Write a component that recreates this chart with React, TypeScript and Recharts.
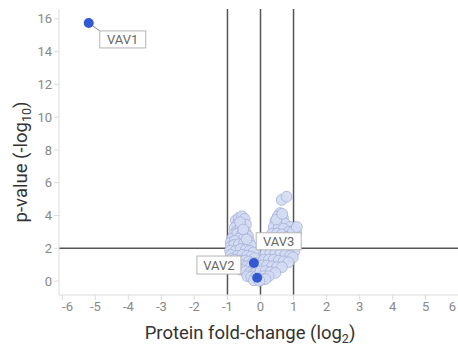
import { ScatterChart, Scatter, XAxis, YAxis, ReferenceLine } from "recharts";

// axis ticks
const X_TICKS = [-6, -5, -4, -3, -2, -1, 0, 1, 2, 3, 4, 5, 6];
const Y_TICKS = [0, 2, 4, 6, 8, 10, 12, 14, 16];

// significance thresholds
const FC_LINES = [-1, 0, 1];
const P_LINE = 2;

// proteins going down (left lobe)
const downFc = [
  -0.75, -0.66, -0.56, -0.48, -0.44, -0.7, -0.78, -0.72, -0.6, -0.45, -0.38, -0.8, -0.86,
  -0.7, -0.55, -0.65, -0.5, -0.35, -0.9, -0.78, -0.9, -0.8, -0.65, -0.5, -0.4, -0.28,
  -0.92, -0.75, -0.6, -0.45, -0.33, -0.22, -0.9, -0.7, -0.55, -0.4, -0.28, -0.18, -0.88,
  -0.78, -0.62, -0.48, -0.35, -0.25, -0.7, -0.55, -0.42, -0.3, -0.18, -0.6, -0.45, -0.33,
  -0.22, -0.12, -0.4, -0.28, -0.17, -0.08, -0.2, -0.62, -0.52, -0.42, -0.13, -0.1,
];
const downP = [
  3.7, 3.85, 3.95, 3.8, 3.45, 3.45, 3.25, 3.05, 3.3, 3.0, 2.75, 2.85, 2.6,
  2.9, 2.9, 2.6, 2.6, 2.45, 2.35, 2.45, 2.1, 2.2, 2.25, 2.3, 2.15, 2.15,
  1.85, 1.85, 1.95, 1.9, 1.85, 1.75, 1.6, 1.55, 1.6, 1.55, 1.5, 1.4, 1.35,
  1.3, 1.25, 1.25, 1.2, 1.1, 1.0, 0.95, 0.9, 0.85, 0.8, 0.7, 0.6, 0.5,
  0.45, 0.55, 0.3, 0.25, 0.2, 0.1, 0.05, 3.6, 3.15, 2.55, 1.1, 0.35,
];

// proteins going up (right lobe)
const upFc = [
  0.64, 0.79, 0.59, 0.52, 0.68, 0.45, 0.6, 0.75, 0.9, 1.05, 0.4, 0.55, 0.7,
  0.85, 0.35, 0.5, 0.65, 0.8, 0.95, 1.08, 0.3, 0.45, 0.6, 0.75, 0.9, 1.0,
  0.22, 0.35, 0.5, 0.65, 0.8, 0.95, 1.02, 0.15, 0.3, 0.45, 0.6, 0.75, 0.9,
  0.98, 0.1, 0.25, 0.4, 0.55, 0.7, 0.85, 0.05, 0.2, 0.35, 0.5, 0.65, 0.0,
  0.15, 0.3, 0.45, 0.1, 0.25, 0.05, 0.15, -0.03, 0.48, 0.66, 0.98, 1.1,
];
const upP = [
  4.95, 5.15, 4.15, 3.95, 3.85, 3.65, 3.6, 3.5, 3.3, 3.15, 3.3, 3.3, 3.2,
  3.0, 2.9, 2.9, 2.85, 2.7, 2.75, 2.95, 2.5, 2.5, 2.45, 2.35, 2.3, 2.2,
  2.1, 2.1, 2.1, 2.0, 2.0, 1.9, 1.8, 1.7, 1.7, 1.7, 1.65, 1.6, 1.55,
  1.45, 1.3, 1.3, 1.3, 1.25, 1.2, 1.15, 0.95, 0.95, 0.9, 0.85, 0.85, 0.6,
  0.6, 0.55, 0.5, 0.3, 0.3, 0.1, 0.12, 0.02, 3.75, 4.1, 3.0, 3.3,
];

// labelled proteins
const hitNames = ["VAV1", "VAV2", "VAV3"];
const hitFc = [-5.2, -0.2, -0.1];
const hitP = [15.75, 1.1, 0.2];

const background = [
  ...downFc.map((x, i) => ({ x, y: downP[i] })),
  ...upFc.map((x, i) => ({ x, y: upP[i] })),
];
const hits = hitNames.map((name, i) => ({ name, x: hitFc[i], y: hitP[i] }));

// where each label box sits relative to its dot
const BOX: Record<string, { dx: number; dy: number; w: number; h: number }> = {
  VAV1: { dx: 11, dy: 8, w: 46, h: 17 },
  VAV2: { dx: -57, dy: -7, w: 44, h: 18 },
  VAV3: { dx: -1, dy: -45, w: 45, h: 17 },
};

const FONT = "Roboto, sans-serif";

const BgDot = (p: any) => (
  <circle cx={p.cx} cy={p.cy} r={5.4} fill="#d4dcf3" fillOpacity={0.9} stroke="#a3b0d8" strokeWidth={0.8} />
);

const HitDot = (p: any) => {
  const b = BOX[p.payload.name];
  const bx = p.cx + b.dx;
  const by = p.cy + b.dy;
  return (
    <g>
      {p.payload.name === "VAV1" && (
        <line x1={p.cx} y1={p.cy} x2={bx} y2={by} stroke="#888" strokeWidth={1} />
      )}
      <circle cx={p.cx} cy={p.cy} r={5} fill="#3458d2" />
      <rect x={bx} y={by} width={b.w} height={b.h} fill="#fff" stroke="#b5b5b5" strokeWidth={1} />
      <text x={bx + b.w / 2} y={by + b.h / 2 + 4.5} textAnchor="middle" fontSize={13} fill="#666" fontFamily={FONT}>
        {p.payload.name}
      </text>
    </g>
  );
};

// edge labels are pulled inside the plot like the original
const XTick = (p: any) => {
  const x = Math.min(Math.max(p.x, 67.5), 452.5);
  return (
    <text x={x} y={p.y} dy="0.71em" textAnchor="middle" fontSize={13} fill="#888" fontFamily={FONT}>
      {p.payload.value}
    </text>
  );
};

const XTitle = () => (
  <text x={250} y={339} textAnchor="middle" fontSize={18.5} fill="#333" fontFamily={FONT}>
    Protein fold-change (log
    <tspan fontSize={12.5} dy={4}>2</tspan>
    <tspan dy={-4}>)</tspan>
  </text>
);

const YTitle = () => (
  <text x={0} y={0} transform="translate(27,162) rotate(-90)" textAnchor="middle" fontSize={18.5} fill="#333" fontFamily={FONT}>
    p-value (-log
    <tspan fontSize={12.5} dy={4}>10</tspan>
    <tspan dy={-4}>)</tspan>
  </text>
);

export default function App() {
  const tick = { fontSize: 13, fill: "#888", fontFamily: FONT };
  return (
    <div
      style={{
        position: "absolute",
        left: 0,
        top: 0,
        width: 458,
        height: 349,
        overflow: "hidden",
        background: "#fff",
      }}
    >
      <ScatterChart width={470} height={349} margin={{ top: 9, right: 8, bottom: 0, left: 0 }}>
        <XAxis
          type="number"
          dataKey="x"
          domain={[-6.1, 6.1]}
          ticks={X_TICKS}
          height={54}
          tick={<XTick />}
          tickSize={5}
          axisLine={{ stroke: "#dcdcdc" }}
          tickLine={{ stroke: "#dcdcdc" }}
          allowDataOverflow
          label={<XTitle />}
        />
        <XAxis
          xAxisId="top"
          orientation="top"
          type="number"
          domain={[-6.1, 6.1]}
          height={0}
          tick={false}
          tickLine={false}
          axisLine={{ stroke: "#e4e4e4" }}
        />
        <YAxis
          type="number"
          dataKey="y"
          domain={[-0.85, 16.6]}
          ticks={Y_TICKS}
          width={59}
          tick={tick}
          tickSize={5}
          axisLine={{ stroke: "#dcdcdc" }}
          tickLine={{ stroke: "#dcdcdc" }}
          allowDataOverflow
          label={<YTitle />}
        />
        <Scatter data={background} shape={BgDot} isAnimationActive={false} />
        {FC_LINES.map((v) => (
          <ReferenceLine key={v} x={v} stroke="#555" strokeWidth={1.5} />
        ))}
        <ReferenceLine y={P_LINE} stroke="#555" strokeWidth={1.5} />
        <Scatter data={hits} shape={HitDot} isAnimationActive={false} />
      </ScatterChart>
    </div>
  );
}
